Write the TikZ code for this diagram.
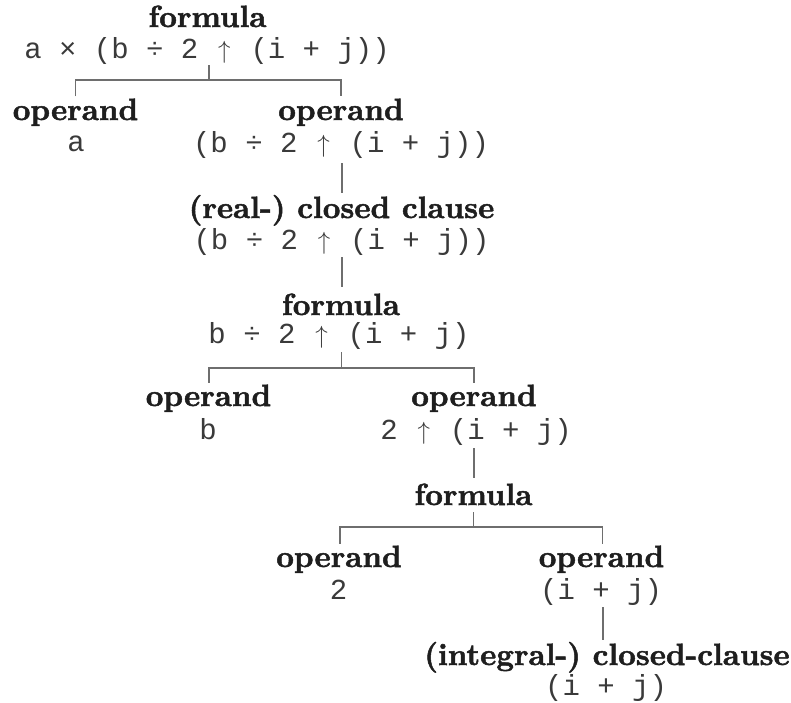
\documentclass[tikz,border=0pt]{standalone}
\usepackage{fontspec}
\newfontfamily\codefont{Liberation Mono}
\newfontfamily\labfont{lmroman10-bold.otf}[FakeBold=1.6]
\newcommand\uarr{\makebox[0.6em]{$\uparrow$}}
\usetikzlibrary{calc}
\definecolor{txt}{HTML}{1E1E1E}
\definecolor{code}{HTML}{3A3A3A}
\definecolor{edge}{HTML}{6E6E6E}
\tikzset{
  lab/.style={anchor=base, inner sep=0pt, text=txt, font=\fontsize{30.7}{36}\selectfont\labfont},
  expr/.style={anchor=base, inner sep=0pt, text=code, font=\fontsize{29}{34}\selectfont\codefont},
  conn/.style={draw=edge, line width=1.3pt}
}
\begin{document}
\begin{tikzpicture}[x=1pt,y=-1pt]
\useasboundingbox (0,0) rectangle (791,702);
% level 1
\node[lab]  (f1)  at (207.5,27) {formula};
\node[expr] (m1)  at (207,58) {a × (b ÷ 2 \uarr{} (i + j))};
% level 2
\node[lab]  (o2a) at (75.5,120) {operand};
\node[expr] (m2a) at (76,151) {a};
\node[lab]  (o2b) at (341,120) {operand};
\node[expr] (m2b) at (341,152) {(b ÷ 2 \uarr{} (i + j))};
% level 3
\node[lab]  (r3)  at (341.5,218) {(real-) closed clause};
\node[expr] (m3)  at (341.5,249) {(b ÷ 2 \uarr{} (i + j))};
% level 4
\node[lab]  (f4)  at (341,315) {formula};
\node[expr] (m4)  at (339,343) {b ÷ 2 \uarr{} (i + j)};
% level 5
\node[lab]  (o5a) at (208.5,406) {operand};
\node[expr] (m5a) at (208,439) {b};
\node[lab]  (o5b) at (474,406) {operand};
\node[expr] (m5b) at (476,439) {2 \uarr{} (i + j)};
% level 6
\node[lab]  (f6)  at (473.5,505) {formula};
% level 7
\node[lab]  (o7a) at (339,567) {operand};
\node[expr] (m7a) at (338.5,599) {2};
\node[lab]  (o7b) at (601.5,567) {operand};
\node[expr] (m7b) at (601,599) {(i + j)};
% level 8
\node[lab]  (c8)  at (607,665) {(integral-) closed-clause};
\node[expr] (m8)  at (606,695) {(i + j)};

% connectors
\draw[conn] ($(m1.base)+(2,7)$) -- ++(0,15) coordinate (j1);
\draw[conn] ($(o2a.north)+(0,-2)$) |- (j1) -| ($(o2b.north)+(0,-2)$);

\draw[conn] ($(m2b.base)+(1,11)$) -- ($(m2b.base |- r3.north)+(1,-2)$);
\draw[conn] ($(m3.base)+(0.5,8)$) -- ($(m3.base |- f4.north)+(0.5,-6)$);

\draw[conn] ($(m4.base)+(2.5,9)$) -- ++(0,16) coordinate (j4);
\draw[conn] ($(o5a.north)+(0.5,-2)$) |- (j4) -| ($(o5b.north)+(0,-2)$);

\draw[conn] ($(m5b.base)+(-2,9)$) -- ($(m5b.base |- f6.north)+(-2,-5)$);

\draw[conn] ($(f6.base)+(0,7)$) -- ++(0,15) coordinate (j6);
\draw[conn] ($(o7a.north)+(1,-2)$) |- (j6) -| ($(o7b.north)+(1,-2)$);

\draw[conn] ($(m7b.base)+(2,8)$) -- ($(m7b.base |- c8.north)+(2,-2)$);
\end{tikzpicture}
\end{document}
